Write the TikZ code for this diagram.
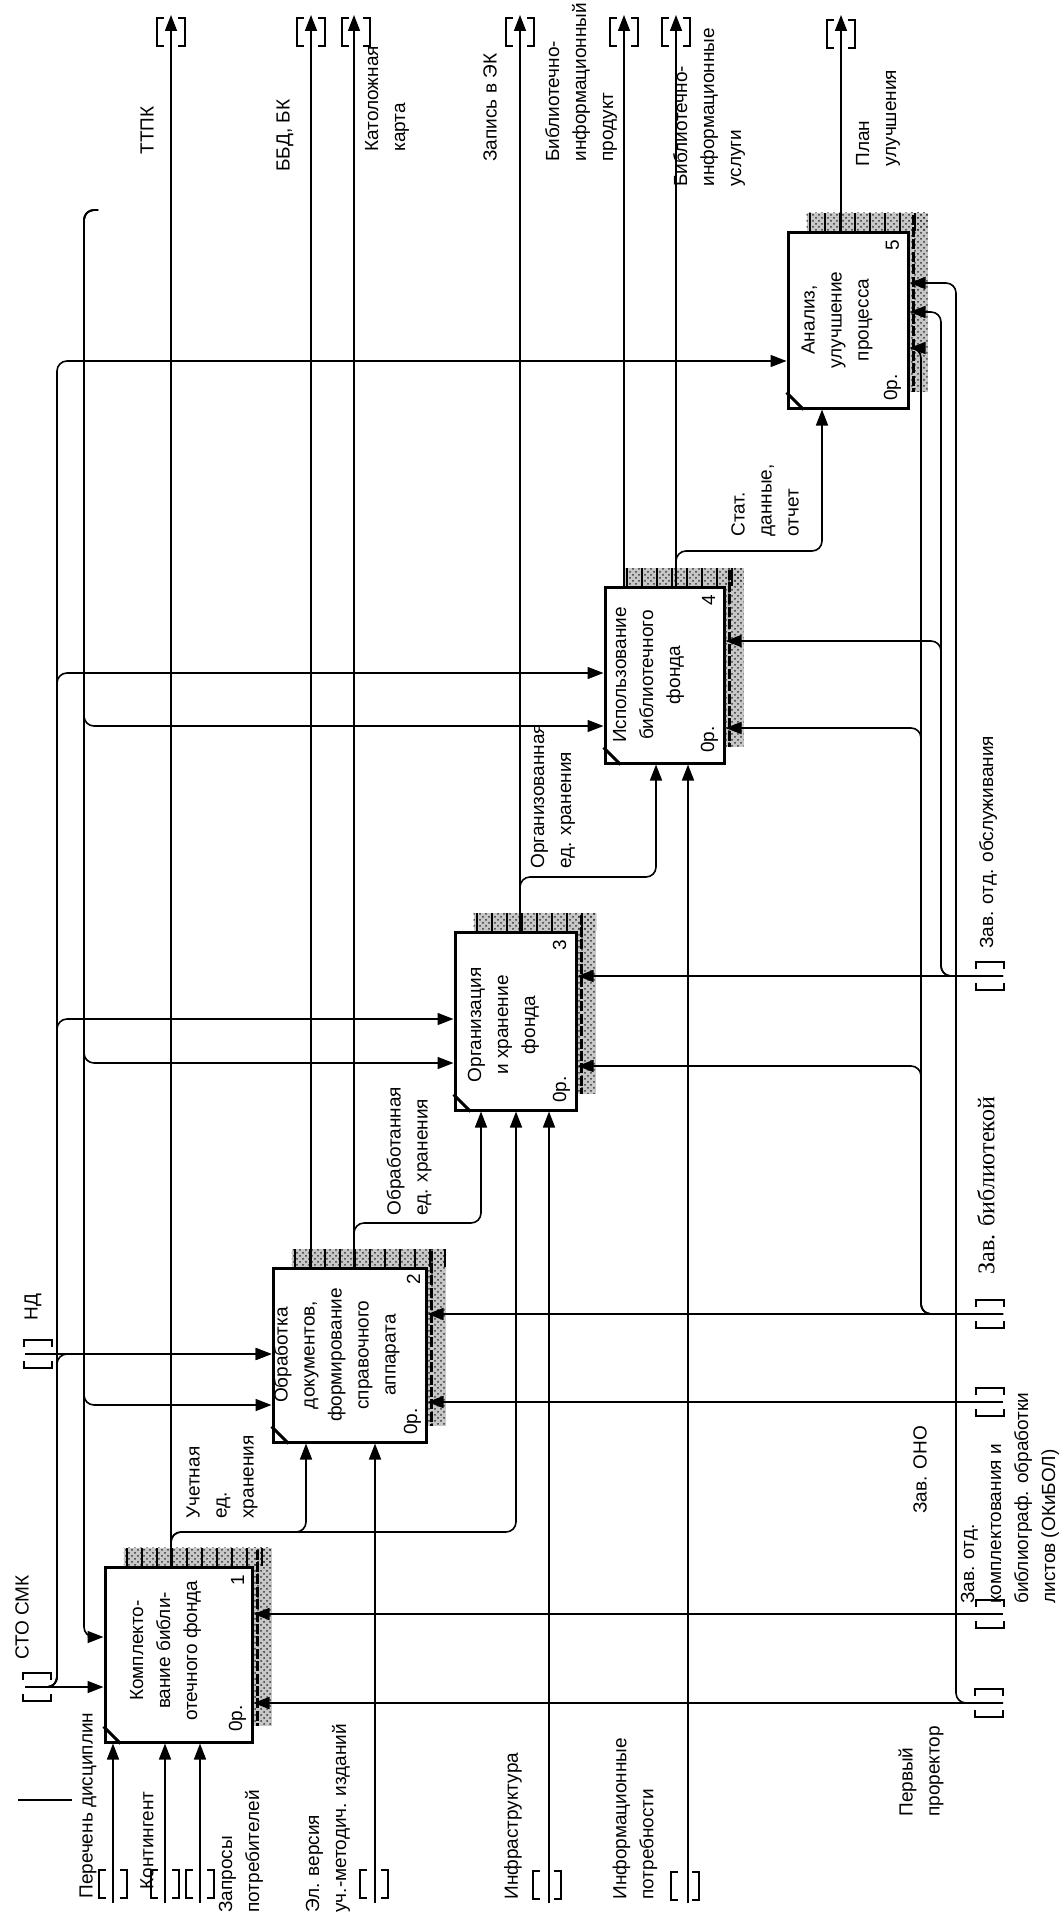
\documentclass[tikz,border=0pt]{standalone}
\usepackage{fontspec}
\setmainfont{Liberation Sans}
\newfontfamily\timesfont{Liberation Serif}
\usetikzlibrary{arrows.meta,calc,patterns,positioning}

\tikzset{
  actbox/.style={draw, line width=1.5pt, fill=white, inner sep=0pt},
  boxtext/.style={rotate=90, align=center, inner sep=0pt, font=\fontsize{9.5}{13.5}\selectfont},
  lbl/.style={rotate=90, align=left, anchor=west, inner sep=0pt, font=\fontsize{9.5}{13.5}\selectfont},
  flow/.style={line width=0.8pt, rounded corners=5pt},
  arr/.style={flow, -{Triangle[length=8pt,width=6pt]}},
  brk/.style={line width=0.8pt},
}

% bracket round a vertical arrow end
\newcommand{\tunv}[2]{%
  \draw[brk] (#1-7,#2-14) -- (#1-14,#2-14) -- (#1-14,#2+14) -- (#1-7,#2+14);
  \draw[brk] (#1+7,#2-14) -- (#1+14,#2-14) -- (#1+14,#2+14) -- (#1+7,#2+14);}
% bracket round a horizontal arrow end
\newcommand{\tunh}[2]{%
  \draw[brk] (#1-14,#2-7) -- (#1-14,#2-14) -- (#1+14,#2-14) -- (#1+14,#2-7);
  \draw[brk] (#1-14,#2+7) -- (#1-14,#2+14) -- (#1+14,#2+14) -- (#1+14,#2+7);}
% hatched shadow and corner mark of an activity box
\newcommand{\boxstrip}[1]{%
  \fill[black!22] ($(#1.north west)+(20,-18)$) rectangle ($(#1.north east)+(18,0)$);
  \fill[black!22] ($(#1.north east)+(0,-18)$) rectangle ($(#1.south east)+(18,-18)$);
  \fill[pattern=crosshatch dots, pattern color=black!80] ($(#1.north west)+(20,-18)$) rectangle ($(#1.north east)+(18,0)$);
  \fill[pattern=crosshatch dots, pattern color=black!80] ($(#1.north east)+(0,-18)$) rectangle ($(#1.south east)+(18,-18)$);
  \draw[line width=9pt, dash pattern=on 1.2pt off 6.3pt] ($(#1.north west)+(22,-9)$) -- ($(#1.north east)+(18,-9)$);
  \draw[line width=1.3pt, dash pattern=on 5pt off 1.2pt] ($(#1.north east)+(4,-16)$) -- ($(#1.south east)+(4,-18)$);
  \draw[line width=1.5pt] ($(#1.south west)+(0,-17)$) -- ($(#1.south west)+(17,0)$);}

\begin{document}
\begin{tikzpicture}[x=0.5pt,y=-0.5pt]

  % Bounding box of the scheme
  \useasboundingbox (0,0) rectangle (1060,1916);

  %%%%%%%%%%%%%%%%%%%%%%%%%%%%%%%%% Activity boxes %%%%%%%%%%%%%%%%%%%%%%%%%%%%%%%%%%%%
  \node[actbox, minimum width=73.5pt, minimum height=87.5pt] (b1) at (178.5,1654.5) {};
  \node[actbox, minimum width=76.5pt, minimum height=87pt] (b2) at (349.5,1355) {};
  \node[actbox, minimum width=60.5pt, minimum height=89pt] (b3) at (515.5,1021) {};
  \node[actbox, minimum width=59.5pt, minimum height=88pt] (b4) at (664.5,675) {};
  \node[actbox, minimum width=60pt, minimum height=88pt] (b5) at (848,320) {};

  \boxstrip{b1}
  \boxstrip{b2}
  \boxstrip{b3}
  \boxstrip{b4}
  \boxstrip{b5}

  \node[boxtext] (b1t) at ($(b1)+(-13,-4)$) {Комплекто-\\вание библи-\\отечного фонда};
  \node[boxtext] (b2t) at ($(b2)+(-13,0)$) {Обработка\\документов,\\формирование\\справочного\\аппарата};
  \node[boxtext] (b3t) at ($(b3)+(-12,4)$) {Организация\\и хранение\\фонда};
  \node[boxtext] (b4t) at ($(b4)+(-16,0)$) {Использование\\библиотечного\\фонда};
  \node[boxtext] (b5t) at ($(b5)+(-11,0)$) {Анализ,\\улучшение\\процесса};

  \node[boxtext] (b1n) at ($(b1.north east)+(-16,15)$) {1};
  \node[boxtext] (b2n) at ($(b2.north east)+(-14,13)$) {2};
  \node[boxtext] (b3n) at ($(b3.north east)+(-18,15)$) {3};
  \node[boxtext] (b4n) at ($(b4.north east)+(-17,15)$) {4};
  \node[boxtext] (b5n) at ($(b5.north east)+(-17,15)$) {5};
  \node[boxtext] (b1o) at ($(b1.south east)+(-16,-25)$) {0р.};
  \node[boxtext] (b2o) at ($(b2.south east)+(-15,-22)$) {0р.};
  \node[boxtext] (b3o) at ($(b3.south east)+(-16,-22)$) {0р.};
  \node[boxtext] (b4o) at ($(b4.south east)+(-16,-25)$) {0р.};
  \node[boxtext] (b5o) at ($(b5.south east)+(-17,-22)$) {0р.};

  %%%%%%%%%%%%%%%%%%%%%%%%%%%%%%%%% Outputs %%%%%%%%%%%%%%%%%%%%%%%%%%%%%%%%%%%%
  \coordinate (oTTPK) at (171,15);
  \coordinate (oBBD) at (311,15);
  \coordinate (oKat) at (354,15);
  \coordinate (oZap) at (520,15);
  \coordinate (oProd) at (624,15);
  \coordinate (oUsl) at (676,15);
  \coordinate (oPlan) at (841,15);
  \coordinate (uch2) at (306,1532);
  \coordinate (uch3) at (516,1532);
  \coordinate (obr3) at (481,1223);
  \coordinate (org4) at (656,877);
  \coordinate (stat5) at (822,551);

  \draw[arr] (b1.north -| oTTPK) -- (oTTPK);
  \draw[arr] (b1.north -| oTTPK) |- (uch2) -- (b2.south -| uch2);
  \draw[arr] (b1.north -| oTTPK) |- (uch3) -- (b3.south -| uch3);
  \draw[arr] (b2.north -| oBBD) -- (oBBD);
  \draw[arr] (b2.north -| oKat) -- (oKat);
  \draw[arr] (b2.north -| oKat) |- (obr3) -- (b3.south -| obr3);
  \draw[arr] (b3.north -| oZap) -- (oZap);
  \draw[arr] (b3.north -| oZap) |- (org4) -- (b4.south -| org4);
  \draw[arr] (b4.north -| oProd) -- (oProd);
  \draw[arr] (b4.north -| oUsl) -- (oUsl);
  \draw[arr] (b4.north -| oUsl) |- (stat5) -- (b5.south -| stat5);
  \draw[arr] (b5.north -| oPlan) -- (oPlan);

  \tunv{171}{32} \tunv{311}{32} \tunv{356}{32} \tunv{520}{32}
  \tunv{624}{32} \tunv{676}{32} \tunv{841}{34}

  \node[lbl] (lTTPK) at (147,155) {ТТПК};
  \node[lbl] (lBBD) at (285,172) {ББД, БК};
  \node[lbl] (lKat) at (387,152) {Католожная\\карта};
  \node[lbl] (lZap) at (490,162) {Запись в ЭК};
  \node[lbl] (lProd) at (581,162) {Библиотечно-\\информационный\\продукт};
  \node[lbl] (lUsl) at (709,187) {Библиотечно-\\информационные\\услуги};
  \node[lbl] (lPlan) at (878,167) {План\\улучшения};
  \node[lbl] (lUch) at (222,1519) {Учетная\\ед.\\хранения};
  \node[lbl] (lObr) at (409,1216) {Обработанная\\ед. хранения};
  \node[lbl] (lOrg) at (553,869) {Организованная\\ед. хранения};
  \node[lbl] (lStat) at (765,537) {Стат.\\данные,\\отчет};

  %%%%%%%%%%%%%%%%%%%%%%%%%%%%%%%%% Controls %%%%%%%%%%%%%%%%%%%%%%%%%%%%%%%%%%%%
  \coordinate (cSTO) at (25,1687);
  \coordinate (cND) at (25,1354);
  \coordinate (trA5) at (57,361);
  \coordinate (trA4) at (57,673);
  \coordinate (trA3) at (57,1019);
  \coordinate (trA2) at (57,1354);
  \coordinate (trB) at (98,210);
  \coordinate (trB4) at (84,726);
  \coordinate (trB3) at (84,1063);
  \coordinate (trB2) at (84,1405);
  \coordinate (trB1) at (84,1637);

  \draw[arr] (cSTO) -- (b1.west |- cSTO);
  \draw[arr] (cSTO) -| (trA5) -- (b5.west |- trA5);
  \draw[arr] (cSTO) -| (trA4) -- (b4.west |- trA4);
  \draw[arr] (cSTO) -| (trA3) -- (b3.west |- trA3);
  \draw[arr] (cSTO) -| (trA2) -- (b2.west |- trA2);
  \draw[arr] (cND) -- (b2.west |- cND);
  \draw[arr] (trB) -| (trB1) -- (b1.west |- trB1);
  \draw[arr] (trB) -| (trB2) -- (b2.west |- trB2);
  \draw[arr] (trB) -| (trB3) -- (b3.west |- trB3);
  \draw[arr] (trB) -| (trB4) -- (b4.west |- trB4);

  \tunh{37}{1687} \tunh{38}{1354}

  % loose stub left of the inputs
  \draw[line width=0.8pt] (18,1800) -- (72,1800);

  \node[lbl] (lSTO) at (22,1660) {СТО СМК};
  \node[lbl] (lND) at (33,1321) {НД};

  %%%%%%%%%%%%%%%%%%%%%%%%%%%%%%%%% Inputs %%%%%%%%%%%%%%%%%%%%%%%%%%%%%%%%%%%%
  \coordinate (iPer) at (113,1903);
  \coordinate (iKont) at (165,1903);
  \coordinate (iZapr) at (200,1903);
  \coordinate (iEl) at (375,1903);
  \coordinate (iInfra) at (549,1903);
  \coordinate (iInfo) at (688,1903);

  \draw[arr] (iPer) -- (b1.south -| iPer);
  \draw[arr] (iKont) -- (b1.south -| iKont);
  \draw[arr] (iZapr) -- (b1.south -| iZapr);
  \draw[arr] (iEl) -- (b2.south -| iEl);
  \draw[arr] (iInfra) -- (b3.south -| iInfra);
  \draw[arr] (iInfo) -- (b4.south -| iInfo);

  \tunv{113}{1884} \tunv{165}{1884} \tunv{200}{1884}
  \tunv{374}{1884} \tunv{547}{1885} \tunv{685}{1886}

  \node[lbl] (lPer) at (88,1899) {Перечень дисциплин};
  \node[lbl] (lKont) at (147,1890) {Контингент};
  \node[lbl] (lZapr) at (241,1913) {Запросы\\потребителей};
  \node[lbl] (lEl) at (328,1913) {Эл. версия\\уч.-методич. изданий};
  \node[lbl] (lInfra) at (513,1900) {Инфраструктура};
  \node[lbl] (lInfo) at (635,1900) {Информационные\\потребности};

  %%%%%%%%%%%%%%%%%%%%%%%%%%%%%%%%% Mechanisms %%%%%%%%%%%%%%%%%%%%%%%%%%%%%%%%%%%%
  \coordinate (mPerv) at (1003,1703);
  \coordinate (mKompl) at (1003,1614);
  \coordinate (mONO) at (1003,1402);
  \coordinate (mBibl) at (1003,1314);
  \coordinate (mObsl) at (1003,976);
  \coordinate (pr5) at (956,283);
  \coordinate (bb3) at (921,1066);
  \coordinate (bb4) at (921,728);
  \coordinate (bb5) at (921,348);
  \coordinate (ob4) at (941,641);
  \coordinate (ob5) at (941,312);

  \draw[arr] (mPerv) -- (b1.east |- mPerv);
  \draw[arr] (mPerv) -| (pr5) -- (b5.east |- pr5);
  \draw[arr] (mKompl) -- (b1.east |- mKompl);
  \draw[arr] (mONO) -- (b2.east |- mONO);
  \draw[arr] (mBibl) -- (b2.east |- mBibl);
  \draw[arr] (mBibl) -| (bb3) -- (b3.east |- bb3);
  \draw[arr] (mBibl) -| (bb4) -- (b4.east |- bb4);
  \draw[arr] (mBibl) -| (bb5) -- (b5.east |- bb5);
  \draw[arr] (mObsl) -- (b3.east |- mObsl);
  \draw[arr] (mObsl) -| (ob4) -- (b4.east |- ob4);
  \draw[arr] (mObsl) -| (ob5) -- (b5.east |- ob5);

  \tunh{989}{1703} \tunh{990}{1614} \tunh{990}{1402} \tunh{990}{1314} \tunh{990}{976}

  \node[lbl] (lObsl) at (988,949) {Зав. отд. обслуживания};
  \node[lbl, font=\timesfont\fontsize{12}{14}\selectfont] (lBibl) at (986,1275) {Зав. библиотекой};
  \node[lbl] (lONO) at (920,1514) {Зав. ОНО};
  \node[lbl] (lKompl) at (1010,1604) {Зав. отд.\\комплектования и\\библиограф. обработки\\листов (ОКиБОЛ)};
  \node[lbl] (lPerv) at (921,1817) {Первый\\проректор};

\end{tikzpicture}
\end{document}
